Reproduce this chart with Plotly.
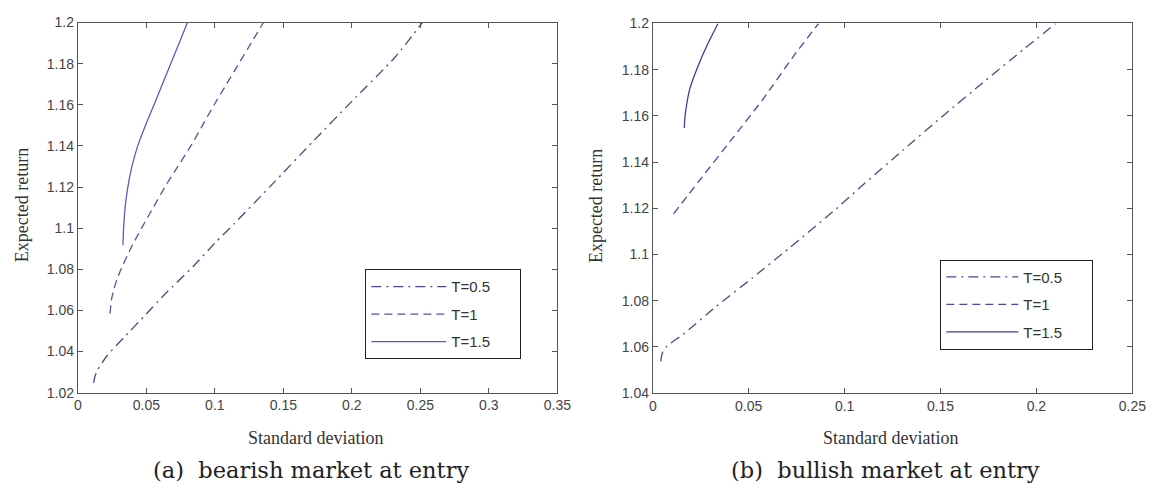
import plotly.graph_objects as go

W, H = 1167, 496

# ---- Data ----
# Panel (a): bearish market at entry
a_t05_sd = [0.0115, 0.0125, 0.0144, 0.0216, 0.0336, 0.0480, 0.0647, 0.0839, 0.1007, 0.1139, 0.1427, 0.1714, 0.2027, 0.2314, 0.2515]
a_t05_er = [1.0248, 1.0280, 1.0311, 1.0382, 1.0468, 1.0569, 1.0687, 1.0812, 1.0932, 1.1020, 1.1219, 1.1420, 1.1635, 1.1830, 1.2000]
a_t1_sd = [0.0235, 0.0245, 0.0262, 0.0285, 0.0315, 0.0385, 0.0465, 0.0550, 0.0635, 0.0730, 0.0825, 0.0910, 0.0995, 0.1085, 0.1175, 0.1265, 0.1355]
a_t1_er = [1.0585, 1.0650, 1.0700, 1.0750, 1.0800, 1.0900, 1.1000, 1.1100, 1.1200, 1.1300, 1.1400, 1.1500, 1.1600, 1.1700, 1.1800, 1.1900, 1.2000]
a_t15_sd = [0.0329, 0.0334, 0.0345, 0.0365, 0.0395, 0.0437, 0.0494, 0.0556, 0.0617, 0.0678, 0.0740, 0.0800]
a_t15_er = [1.0917, 1.1000, 1.1100, 1.1200, 1.1300, 1.1400, 1.1500, 1.1600, 1.1700, 1.1800, 1.1900, 1.2000]

# Panel (b): bullish market at entry
b_t05_sd = [0.0041, 0.0050, 0.0075, 0.0159, 0.0330, 0.0518, 0.0707, 0.0955, 0.1083, 0.1306, 0.1511, 0.1734, 0.1939, 0.2100]
b_t05_er = [1.0538, 1.0575, 1.0605, 1.0655, 1.0775, 1.0898, 1.1025, 1.1197, 1.1292, 1.1453, 1.1599, 1.1753, 1.1892, 1.2000]
b_t1_sd = [0.0108, 0.0236, 0.0407, 0.0578, 0.0733, 0.0864]
b_t1_er = [1.1176, 1.1313, 1.1494, 1.1676, 1.1858, 1.2000]
b_t15_sd = [0.0164, 0.0166, 0.0171, 0.0193, 0.0236, 0.0287, 0.0340]
b_t15_er = [1.1548, 1.1580, 1.1620, 1.1718, 1.1816, 1.1913, 1.2000]

series_names = ["T=0.5", "T=1", "T=1.5"]

a_xticks = [0, 0.05, 0.1, 0.15, 0.2, 0.25, 0.3, 0.35]
a_xtext = ["0", "0.05", "0.1", "0.15", "0.2", "0.25", "0.3", "0.35"]
a_yticks = [1.02, 1.04, 1.06, 1.08, 1.1, 1.12, 1.14, 1.16, 1.18, 1.2]
a_ytext = ["1.02", "1.04", "1.06", "1.08", "1.1", "1.12", "1.14", "1.16", "1.18", "1.2"]
b_xticks = [0, 0.05, 0.1, 0.15, 0.2, 0.25]
b_xtext = ["0", "0.05", "0.1", "0.15", "0.2", "0.25"]
b_yticks = [1.04, 1.06, 1.08, 1.1, 1.12, 1.14, 1.16, 1.18, 1.2]
b_ytext = ["1.04", "1.06", "1.08", "1.1", "1.12", "1.14", "1.16", "1.18", "1.2"]

captions = ["(a)\u00a0\u00a0bearish market at entry", "(b)\u00a0\u00a0bullish market at entry"]
x_title = "Standard deviation"
y_title = "Expected return"

# ---- Styles ----
dash_styles = ["10px,5px,2px,5px", "8px,5px", "solid"]
colors_a = ["#484884", "#5252aa", "#5a5ac8"]
colors_b = ["#4a4a8a", "#4848a8", "#3c3ca8"]
PAD = "\u00a0" * 6

fig = go.Figure()

panels = [
    ("x", "y", "legend", "a", [(a_t05_sd, a_t05_er), (a_t1_sd, a_t1_er), (a_t15_sd, a_t15_er)], colors_a),
    ("x2", "y2", "legend2", "b", [(b_t05_sd, b_t05_er), (b_t1_sd, b_t1_er), (b_t15_sd, b_t15_er)], colors_b),
]
for xa, ya, lg, tag, data, cols in panels:
    for i, (sx, sy) in enumerate(data):
        fig.add_trace(go.Scatter(
            x=sx, y=sy, mode="lines", name=series_names[i] + PAD,
            legendgroup=f"{tag}{i}",
            line=dict(color=cols[i], width=1.3, dash=dash_styles[i], shape="spline", smoothing=0.5),
            xaxis=xa, yaxis=ya, legend=lg,
        ))

def px_x(p):
    return p / W

def px_y(p):
    return 1 - p / H

axis_common = dict(
    showline=True, linecolor="#555555", linewidth=1, mirror="ticks",
    ticks="inside", ticklen=5, tickcolor="#555555", tickwidth=1,
    showgrid=False, zeroline=False,
    tickfont=dict(family="Arial, Liberation Sans, sans-serif", size=14, color="#444444"),
)

legend_common = dict(
    xanchor="left", yanchor="top",
    bgcolor="white", bordercolor="#222222", borderwidth=1,
    font=dict(family="Arial, Liberation Sans, sans-serif", size=15, color="#333333"),
    tracegroupgap=5,
)

fig.update_layout(
    width=W, height=H,
    margin=dict(l=0, r=0, t=0, b=0),
    paper_bgcolor="white", plot_bgcolor="white",
    showlegend=True,
    xaxis=dict(domain=[px_x(75), px_x(562)], range=[0, 0.35], anchor="y",
               tickmode="array", tickvals=a_xticks, ticktext=a_xtext, **axis_common),
    yaxis=dict(domain=[px_y(397.5), px_y(15)], range=[1.02, 1.2], anchor="x",
               tickmode="array", tickvals=a_yticks, ticktext=a_ytext, **axis_common),
    xaxis2=dict(domain=[px_x(659), px_x(1146)], range=[0, 0.25], anchor="y2",
                tickmode="array", tickvals=b_xticks, ticktext=b_xtext, **axis_common),
    yaxis2=dict(domain=[px_y(398), px_y(16)], range=[1.04, 1.2], anchor="x2",
                tickmode="array", tickvals=b_yticks, ticktext=b_ytext, **axis_common),
    legend=dict(x=px_x(367), y=px_y(270), itemwidth=75, **legend_common),
    legend2=dict(x=px_x(951), y=px_y(260), itemwidth=72, **legend_common),
)

serif_small = dict(family="Liberation Serif, Times New Roman, serif", size=18, color="#333333")
serif_cap = dict(family="DejaVu Serif, serif", size=22.5, color="#222222")

annos = [
    dict(x=px_x(316), y=px_y(444), text=x_title, font=serif_small),
    dict(x=px_x(900), y=px_y(444), text=x_title, font=serif_small),
    dict(x=px_x(19), y=px_y(204), text=y_title, font=serif_small, textangle=-90),
    dict(x=px_x(602), y=px_y(205), text=y_title, font=serif_small, textangle=-90),
    dict(x=px_x(312), y=px_y(477), text=captions[0], font=serif_cap),
    dict(x=px_x(895), y=px_y(477), text=captions[1], font=serif_cap),
]
for a in annos:
    fig.add_annotation(xref="paper", yref="paper", showarrow=False,
                       xanchor="center", yanchor="middle", **a)

fig.write_html("out.html")
